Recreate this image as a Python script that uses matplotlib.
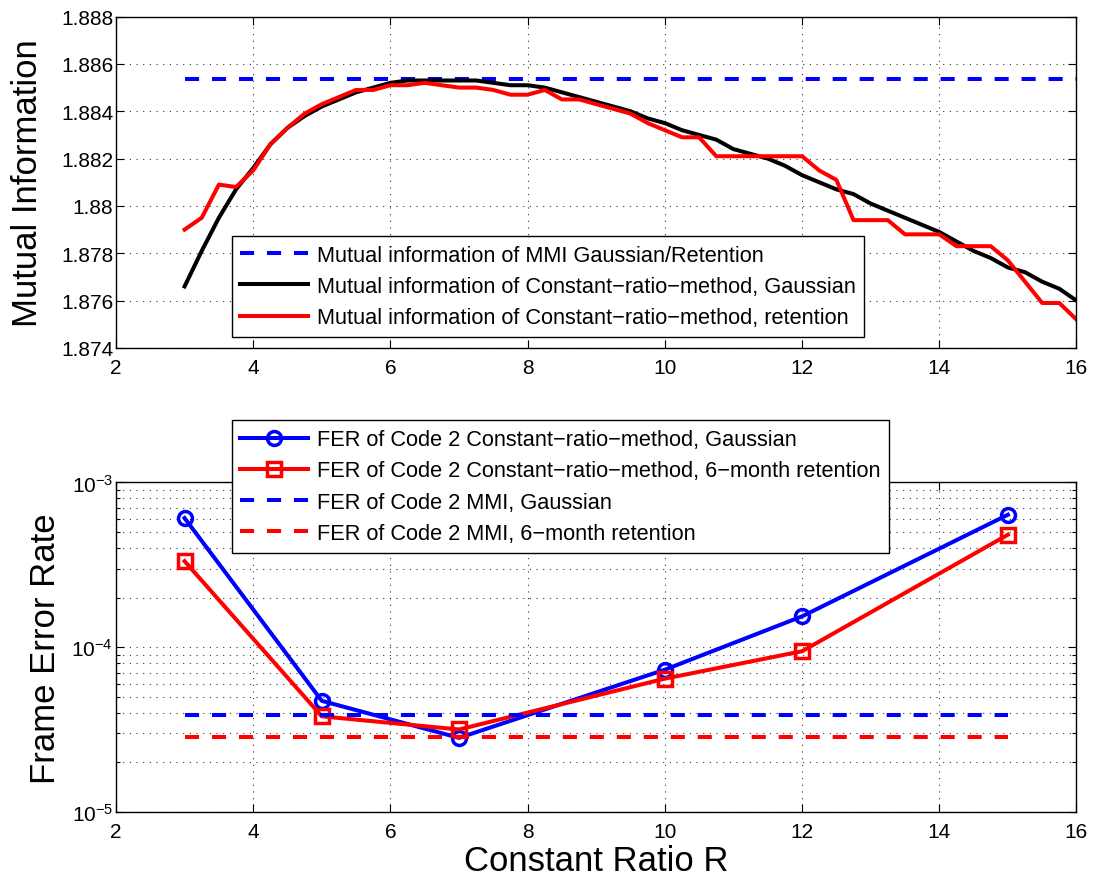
import numpy as np
import matplotlib
matplotlib.use("Agg")
import matplotlib.pyplot as plt
from matplotlib.ticker import LogLocator, FixedLocator, FuncFormatter

plt.rcParams['font.family'] = ['Liberation Sans', 'DejaVu Sans']
plt.rcParams['mathtext.default'] = 'regular'

# ---------------- data: top panel ----------------
r_fine = np.arange(3.0, 16.01, 0.25)
mi_gauss = [1.8766, 1.8781, 1.8795, 1.8807, 1.8816, 1.8826, 1.8833, 1.8838, 1.8842, 1.8845,
            1.8848, 1.8850, 1.8852, 1.8853, 1.8853, 1.8853, 1.8853, 1.8853, 1.8852, 1.8851,
            1.8851, 1.8850, 1.8848, 1.8846, 1.8844, 1.8842, 1.8840, 1.8837, 1.8835, 1.8832,
            1.8830, 1.8828, 1.8824, 1.8822, 1.8820, 1.8817, 1.8813, 1.8810, 1.8807, 1.8805,
            1.8801, 1.8798, 1.8795, 1.8792, 1.8789, 1.8785, 1.8781, 1.8778, 1.8774, 1.8772,
            1.8768, 1.8765, 1.8760]
mi_retention = [1.8790, 1.8795, 1.8809, 1.8808, 1.8815, 1.8826, 1.8833, 1.8839, 1.8843, 1.8846,
                1.8849, 1.8849, 1.8851, 1.8851, 1.8852, 1.8851, 1.8850, 1.8850, 1.8849, 1.8847,
                1.8847, 1.8849, 1.8845, 1.8845, 1.8843, 1.8841, 1.8839, 1.8835, 1.8832, 1.8829,
                1.8829, 1.8821, 1.8821, 1.8821, 1.8821, 1.8821, 1.8821, 1.8815, 1.8811, 1.8794,
                1.8794, 1.8794, 1.8788, 1.8788, 1.8788, 1.8783, 1.8783, 1.8783, 1.8777, 1.8768,
                1.8759, 1.8759, 1.8752]
mi_mmi = 1.88535
mmi_x_range = [3, 16]

# ---------------- data: bottom panel ----------------
r_coarse = [3, 5, 7, 10, 12, 15]
fer_gauss = [6.08e-4, 4.73e-5, 2.82e-5, 7.31e-5, 1.54e-4, 6.37e-4]
fer_retention = [3.33e-4, 3.81e-5, 3.17e-5, 6.45e-5, 9.46e-5, 4.82e-4]
fer_mmi_gauss = 3.86e-5
fer_mmi_retention = 2.85e-5
fer_mmi_x_range = [3, 15]

x_ticks = [2, 4, 6, 8, 10, 12, 14, 16]
mi_ticks = [1.874, 1.876, 1.878, 1.88, 1.882, 1.884, 1.886, 1.888]
mi_tick_labels = ['1.874', '1.876', '1.878', '1.88', '1.882', '1.884', '1.886', '1.888']

fig = plt.figure(figsize=(10.94, 8.79), dpi=100)
ax1 = fig.add_axes([0.106, 0.603, 0.878, 0.377])
ax2 = fig.add_axes([0.106, 0.075, 0.878, 0.375])

lw = 2.9
dash = (3.5, 3.2)
tick_fs = 15
lab_fs = 25
leg_fs = 15.7

def style(ax):
    ax.tick_params(which='both', direction='in', top=True, right=True, labelsize=tick_fs,
                   width=0.8)
    ax.tick_params(axis='y', which='both', pad=2)
    ax.tick_params(axis='x', which='both', pad=7)
    ax.tick_params(which='major', length=6)
    ax.tick_params(which='minor', length=3)
    for s in ax.spines.values():
        s.set_linewidth(1.0)
    ax.grid(True, which='major', linestyle=(0, (1, 5)), color='black', linewidth=0.8, alpha=0.8)

leg_kw = dict(fontsize=leg_fs, frameon=True, fancybox=False, edgecolor='black', framealpha=1,
              handlelength=3.1, handletextpad=0.4, borderpad=0.4, labelspacing=0.47,
              borderaxespad=0)

# top panel
ax1.plot(mmi_x_range, [mi_mmi, mi_mmi], color='blue', lw=lw, dashes=dash,
         label='Mutual information of MMI Gaussian/Retention')
ax1.plot(r_fine, mi_gauss, color='black', lw=lw,
         label='Mutual information of Constant\u2212ratio\u2212method, Gaussian')
ax1.plot(r_fine, mi_retention, color='red', lw=lw,
         label='Mutual information of Constant\u2212ratio\u2212method, retention')
ax1.set_xlim(2, 16)
ax1.set_ylim(1.874, 1.888)
ax1.set_xticks(x_ticks)
ax1.set_yticks(mi_ticks)
ax1.set_yticklabels(mi_tick_labels)
ax1.set_ylabel('Mutual Information', fontsize=lab_fs, labelpad=12)
style(ax1)
leg1 = ax1.legend(loc='lower left', bbox_to_anchor=(0.1204, 0.033), **leg_kw)
leg1.get_frame().set_linewidth(1.0)

# bottom panel
ax2.plot(r_coarse, fer_gauss, color='blue', lw=lw, marker='o', ms=10, mfc='none',
         mew=2.5, label='FER of Code 2 Constant\u2212ratio\u2212method, Gaussian')
ax2.plot(r_coarse, fer_retention, color='red', lw=lw, marker='s', ms=10, mfc='none',
         mew=2.5, label='FER of Code 2 Constant\u2212ratio\u2212method, 6\u2212month retention')
ax2.plot(fer_mmi_x_range, [fer_mmi_gauss] * 2, color='blue', lw=lw, dashes=dash,
         label='FER of Code 2 MMI, Gaussian')
ax2.plot(fer_mmi_x_range, [fer_mmi_retention] * 2, color='red', lw=lw, dashes=dash,
         label='FER of Code 2 MMI, 6\u2212month retention')
ax2.set_yscale('log')
ax2.set_xlim(2, 16)
ax2.set_ylim(1e-5, 1e-3)
ax2.set_xticks(x_ticks)
ax2.yaxis.set_major_locator(FixedLocator([1e-5, 1e-4, 1e-3]))
ax2.yaxis.set_minor_locator(LogLocator(base=10, subs=np.arange(2, 10)))
ax2.yaxis.set_major_formatter(FuncFormatter(lambda v, p: r'$10^{%d}$' % int(round(np.log10(v)))))
ax2.yaxis.set_minor_formatter(FuncFormatter(lambda v, p: ''))
ax2.set_ylabel('Frame Error Rate', fontsize=lab_fs, labelpad=7)
ax2.set_xlabel('Constant Ratio R', fontsize=lab_fs, labelpad=2)
style(ax2)
ax2.grid(True, which='minor', axis='y', linestyle=(0, (1, 5)), color='black', linewidth=0.8, alpha=0.8)
leg2 = ax2.legend(loc='upper left', bbox_to_anchor=(0.1204, 1.188), **leg_kw)
leg2.get_frame().set_linewidth(1.0)

fig.savefig('out.png', dpi=100)
